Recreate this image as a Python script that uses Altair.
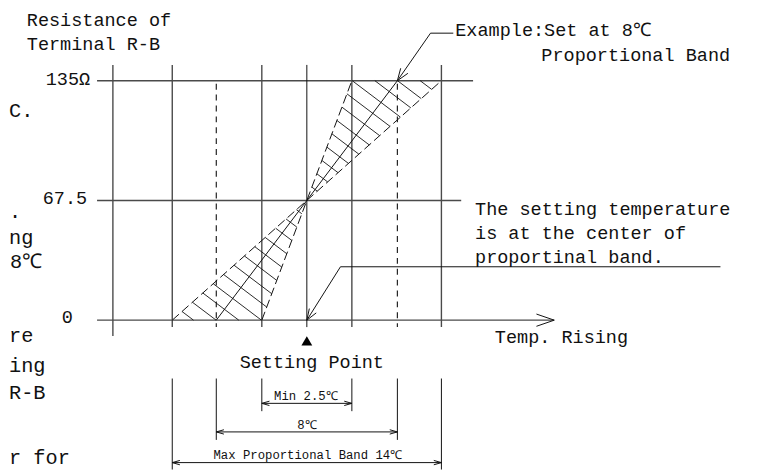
import math
import altair as alt
import pandas as pd

# ---------------- values ----------------
# y: resistance of terminal R-B in ohms; x: drawing units, setting point = 0
R_LEVELS = [0, 67.5, 135]                      # horizontal guide lines (Ω)
R_LABELS = ["0", "67.5", "135Ω"]
R_MAX = 135
R_MID = 67.5
SET_POINT = 0
AXIS_U = -196                                  # left vertical axis line
BAND_NAMES = ["Min 2.5℃", "8℃", "Max Proportional Band 14℃"]
BAND_HALF = [45.5, 91.5, 136]                  # half width of each band (drawing units)
H_LEFT = -212
H_RIGHT = [250, 156, 168]                      # right end of each horizontal line
V_TOP, V_BOT, AXIS_BOT, DASH_TOP = 143.9, -3.9, -8.9, 133.3
EXT_TOP = -32.9
EXT_BOT = [-51.3, -67.5, -84.2]
DIM_R = [-46.9, -63.0, -80.3]

# ---------------- drawing set-up ----------------
W, H = 764, 467
K = 242 / 135.0                                # drawing units per ohm (for isotropic decoration)
XS = alt.Scale(domain=[-302, 462], nice=False, zero=False)
YS = alt.Scale(domain=[-85.91, 174.61], nice=False, zero=False)


def iso(u, r):
    return (u, r * K)


def back(p):
    return (p[0], p[1] / K)


segs = []


def seg(kind, u1, r1, u2, r2):
    segs.append(dict(kind=kind, x=u1, y=r1, x2=u2, y2=r2))


def barbs(kind, tip_u, tip_r, from_u, from_r, length, ang):
    tx, ty = iso(tip_u, tip_r)
    fx, fy = iso(from_u, from_r)
    dx, dy = fx - tx, fy - ty
    L = math.hypot(dx, dy)
    dx, dy = dx / L, dy / L
    for s in (-1, 1):
        a = math.radians(ang * s)
        rx = dx * math.cos(a) - dy * math.sin(a)
        ry = dx * math.sin(a) + dy * math.cos(a)
        seg(kind, tip_u, tip_r, *back((tx + rx * length, ty + ry * length)))


# horizontal guide lines
for r, e in zip(R_LEVELS, H_RIGHT):
    seg("grid", H_LEFT, r, e, r)
barbs("line", H_RIGHT[0], 0, SET_POINT, 0, 19, 19)   # "Temp. Rising" arrow

# vertical lines
seg("grid", AXIS_U, V_TOP, AXIS_U, AXIS_BOT)
for h in (BAND_HALF[0], BAND_HALF[2]):
    for sg in (-1, 1):
        seg("grid", sg * h, V_TOP, sg * h, V_BOT)
seg("line", SET_POINT, V_TOP, SET_POINT, V_BOT)
for sg in (-1, 1):
    seg("dash", sg * BAND_HALF[1], DASH_TOP, sg * BAND_HALF[1], V_BOT)

# band lines through the setting point
seg("band", -BAND_HALF[0], 0, BAND_HALF[0], R_MAX)
seg("band", -BAND_HALF[2], 0, BAND_HALF[2], R_MAX)
seg("line", -BAND_HALF[1], 0, BAND_HALF[1], R_MAX)


# hatching of the adjustable range
def clip_line(m, n, poly):
    area = sum(poly[i][0] * poly[(i + 1) % 3][1] - poly[(i + 1) % 3][0] * poly[i][1] for i in range(3))
    if area < 0:
        poly = poly[::-1]
    t0, t1 = -1e9, 1e9
    for i in range(3):
        a = poly[i]
        b = poly[(i + 1) % 3]
        nx, ny = -(b[1] - a[1]), b[0] - a[0]
        num = nx * (m[0] - a[0]) + ny * (m[1] - a[1])
        den = nx * n[0] + ny * n[1]
        if abs(den) < 1e-12:
            if num < 0:
                return None
            continue
        t = -num / den
        if den > 0:
            t0 = max(t0, t)
        else:
            t1 = min(t1, t)
    if t1 - t0 < 0.8:
        return None
    return (m[0] + t0 * n[0], m[1] + t0 * n[1]), (m[0] + t1 * n[0], m[1] + t1 * n[1])


c = iso(SET_POINT, R_MID)
tp = iso(BAND_HALF[1], R_MAX)
L = math.hypot(tp[0] - c[0], tp[1] - c[1])
d = ((tp[0] - c[0]) / L, (tp[1] - c[1]) / L)
nrm = (d[1], -d[0])
upper = [c, iso(BAND_HALF[0], R_MAX), iso(BAND_HALF[2], R_MAX)]
lower = [c, iso(-BAND_HALF[0], 0), iso(-BAND_HALF[2], 0)]
HATCH = 13.8
for k in range(1, 14):
    for sg, tri in ((1, upper), (-1, lower)):
        m = (c[0] + sg * k * HATCH * d[0], c[1] + sg * k * HATCH * d[1])
        res = clip_line(m, nrm, tri)
        if res:
            seg("hatch", *back(res[0]), *back(res[1]))

# leader for the example
EX_BEND, EX_END = (125, 161.8), (148, 161.8)
seg("line", BAND_HALF[1], R_MAX, *EX_BEND)
seg("line", *EX_BEND, *EX_END)
barbs("line", BAND_HALF[1], R_MAX, *EX_BEND, 13, 20)

# leader for the setting temperature note
ST_BEND, ST_END = (34, 30.1), (418, 30.1)
seg("line", SET_POINT, 0, *ST_BEND)
seg("line", *ST_BEND, *ST_END)
barbs("line", SET_POINT, 0, *ST_BEND, 12, 20)

# dimension lines of the bands
for h, eb, dr in zip(BAND_HALF, EXT_BOT, DIM_R):
    seg("line", -h, EXT_TOP, -h, eb)
    seg("line", h, EXT_TOP, h, eb)
    seg("line", -h, dr, h, dr)
    barbs("line", -h, dr, h, dr, 8, 16)
    barbs("line", h, dr, -h, dr, 8, 16)

df = pd.DataFrame(segs)


def rules(kind, color, width, dash=None):
    kw = dict(color=color, strokeWidth=width, strokeCap="butt")
    if dash:
        kw["strokeDash"] = dash
    return alt.Chart(df[df.kind == kind]).mark_rule(**kw).encode(
        x=alt.X("x:Q", scale=XS, axis=None),
        y=alt.Y("y:Q", scale=YS, axis=None),
        x2="x2:Q", y2="y2:Q")


def texts(rows, align, size, font="Liberation Mono"):
    t = pd.DataFrame(rows, columns=["u", "r", "t"])
    return alt.Chart(t).mark_text(align=align, baseline="middle", font=font,
                                  fontSize=size, color="#111").encode(
        x=alt.X("u:Q", scale=XS, axis=None),
        y=alt.Y("r:Q", scale=YS, axis=None),
        text="t:N")


FS = 18.7
left_main = [
    (-283, 169.0, "Resistance of"),
    (-283, 155.6, "Terminal R-B"),
    (150, 163.4, "Example:Set at 8℃"),
    (237, 149.5, "Proportional Band"),
    (170, 62.5, "The setting temperature"),
    (170, 49.1, "is at the center of"),
    (170, 35.7, "proportinal band."),
    (190, -9.5, "Temp. Rising"),
]
right_main = [(-219, 136.1, R_LABELS[2]), (-222, 68.6, R_LABELS[1])]
center_main = [(-242, 1.7, R_LABELS[0]), (5, -23.4, "Setting Point")]
band_text = [(-1, -43.0, BAND_NAMES[0]), (0, -59.1, BAND_NAMES[1]), (1, -75.9, BAND_NAMES[2])]
# fragments of a side text at the left edge of the picture
frag_left = [(-301, 117.7, "C."), (-301, 60.8, "."), (-301, 46.3, "ng"), (-300, 32.9, "8℃"),
             (-301, -8.9, "re"), (-301, -25.7, "ing"), (-301, -41.3, "R-B"), (-301, -77.5, "r for")]

marker = alt.Chart(pd.DataFrame({"u": [SET_POINT], "r": [-11.7]})).mark_point(
    shape="triangle-up", filled=True, color="#000", size=120, opacity=1).encode(
    x=alt.X("u:Q", scale=XS, axis=None), y=alt.Y("r:Q", scale=YS, axis=None))

chart = alt.layer(
    rules("grid", "#4a4a4a", 1.4),
    rules("dash", "#222", 1.2, [6, 5]),
    rules("band", "#111", 1.0, [9, 4]),
    rules("hatch", "#111", 0.9),
    rules("line", "#111", 1.0),
    marker,
    texts(left_main, "left", FS),
    texts(right_main, "right", FS),
    texts(center_main, "center", FS),
    texts(band_text, "center", 12.4),
    texts(frag_left, "left", 20.5),
).properties(
    width=W, height=H, padding=0,
    autosize=alt.AutoSizeParams(type="none"),
    background="white",
).configure_view(stroke=None)

chart.save("out.html", embed_options={"renderer": "svg", "actions": False})
